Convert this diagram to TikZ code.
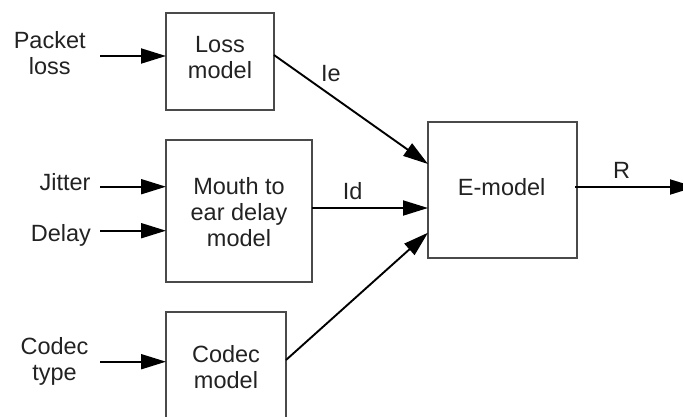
\documentclass[tikz,border=0pt]{standalone}
\usepackage{fontspec}
\setmainfont{Liberation Sans}
\usetikzlibrary{arrows.meta}
\definecolor{inkgray}{HTML}{222222}
\definecolor{boxgray}{HTML}{4A4A4A}
\begin{document}
\begin{tikzpicture}[x=1pt,y=-1pt,
  every node/.style={inner sep=0pt,outer sep=0pt},
  block/.style={draw=boxgray,line width=1.2pt,fill=white},
  txt/.style={text=inkgray,font=\fontsize{23.5}{26}\selectfont,align=center},
  flow/.style={draw=black,line width=1.9pt,-{Triangle[length=25pt,width=15pt]}},
  wire/.style={draw=black,line width=1.9pt}]
\useasboundingbox (0,0) rectangle (683,416);
\clip (0,0) rectangle (683,416);

% blocks
\node[block,minimum width=108pt,minimum height=97pt] (loss) at (220,61.5) {};
\node[block,minimum width=146pt,minimum height=142pt] (mouth) at (239,211) {};
\node[block,minimum width=120pt,minimum height=110pt] (codec) at (226,367) {};
\node[block,minimum width=149pt,minimum height=136pt] (emodel) at (502.5,190) {};

% block captions
\node[txt] (losst) at (220,57.5) {Loss\\model};
\node[txt] (moutht) at (239,212.5) {Mouth to\\ear delay\\model};
\node[txt] (codect) at (226,367) {Codec\\model};
\node[txt] (emodelt) at (501.7,186.7) {E-model};

% inputs
\node[txt] (pl) at (49.7,53) {Packet\\loss};
\node[txt,anchor=base east] (jit) at (90.5,190) {Jitter};
\node[txt,anchor=base east] (del) at (91,241) {Delay};
\node[txt] (ct) at (54.5,361.5) {Codec\\type};

\coordinate (plin) at (100,56);
\coordinate (jitin) at (100,186.7);
\coordinate (delin) at (100,230.7);
\coordinate (ctin) at (100,361.7);
\coordinate (rout) at (695,187);

\draw[flow] (plin) -- (plin -| loss.west);
\draw[flow] (jitin) -- (jitin -| mouth.west);
\draw[flow] (delin) -- (delin -| mouth.west);
\draw[flow] (ctin) -- (ctin -| codec.west);

% into the E-model
\draw[flow] ([yshift=6.5pt]loss.east) -- ([yshift=26pt]emodel.west);
\draw[flow] ([yshift=3pt]mouth.east) -- ([yshift=3pt]mouth.east -| emodel.west);
\draw[flow] ([yshift=7pt]codec.east) -- ([yshift=-42.7pt]emodel.west);
\draw[flow] ([yshift=3pt,xshift=-2pt]emodel.east) -- (rout);

% signal names
\node[txt,anchor=base] (ie) at (331,81.7) {Ie};
\node[txt,anchor=base] (id) at (352.7,199) {Id};
\node[txt,anchor=base] (r) at (621.7,178.3) {R};
\end{tikzpicture}
\end{document}
